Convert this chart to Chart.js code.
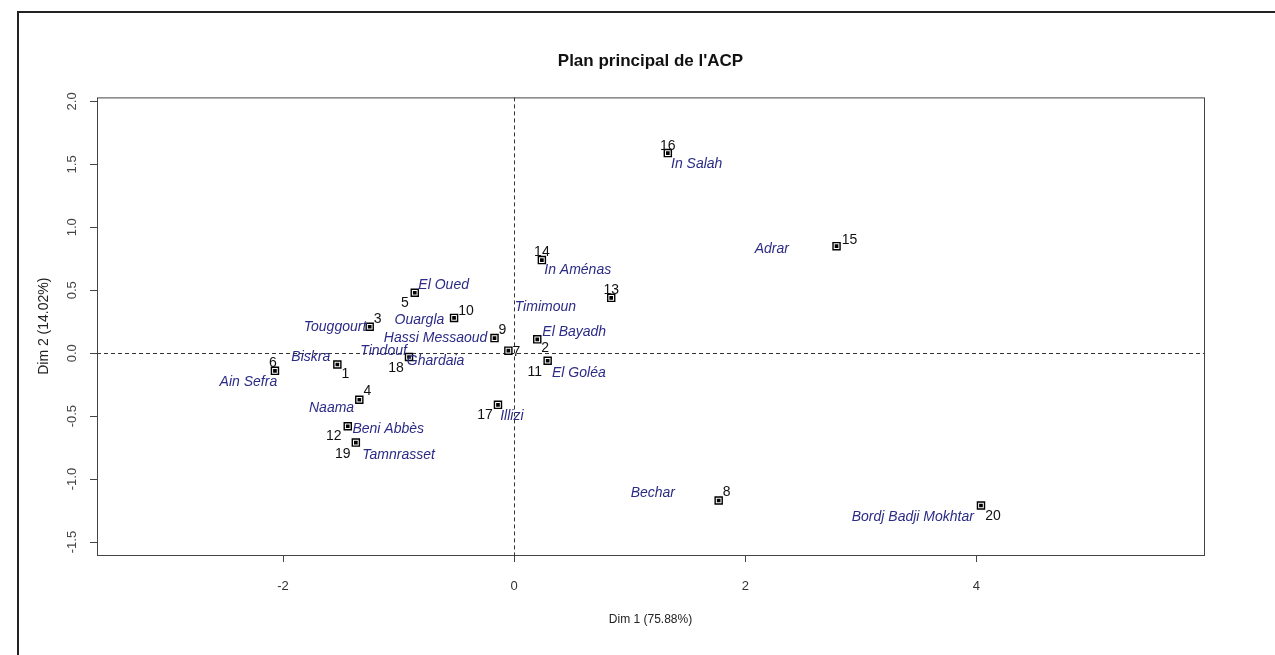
<!DOCTYPE html>
<html>
<head>
<meta charset="utf-8">
<script src="https://cdn.jsdelivr.net/npm/chart.js@4.4.1/dist/chart.umd.min.js"></script>
<style>
  html, body { margin: 0; padding: 0; background: #fff; }
  #wrap { position: relative; width: 1275px; height: 655px; }
</style>
</head>
<body>
<div id="wrap"><canvas id="acpChart"></canvas></div>
<script>
// individuals (coordinates on the first two PCA dimensions)
const pointIds = ['1','2','3','4','5','6','7','8','9','10','11','12','13','14','15','16','17','18','19','20'];
const dim1 = [-1.53, 0.20, -1.25, -1.34, -0.86, -2.07, -0.05, 1.77, -0.17, -0.52, 0.29, -1.44, 0.84, 0.24, 2.79, 1.33, -0.14, -0.91, -1.37, 4.04];
const dim2 = [-0.09, 0.11, 0.21, -0.37, 0.48, -0.14, 0.02, -1.17, 0.12, 0.28, -0.06, -0.58, 0.44, 0.74, 0.85, 1.59, -0.41, -0.03, -0.71, -1.21];

// city names layer
const cityNames = ['In Salah', 'Adrar', 'In Aménas', 'El Oued', 'Timimoun', 'Ouargla', 'Touggourt', 'El Bayadh',
  'Hassi Messaoud', 'Tindouf', 'Biskra', 'Ghardaia', 'El Goléa', 'Ain Sefra', 'Naama', 'Illizi',
  'Beni Abbès', 'Tamnrasset', 'Bechar', 'Bordj Badji Mokhtar'];
const cityX = [1.58, 2.23, 0.55, -0.61, 0.27, -0.82, -1.55, 0.52, -0.68, -1.13, -1.76, -0.68, 0.56, -2.30, -1.58, -0.02, -1.09, -1.00, 1.20, 3.45];
const cityY = [1.50, 0.83, 0.66, 0.54, 0.37, 0.26, 0.21, 0.17, 0.12, 0.02, -0.03, -0.06, -0.16, -0.23, -0.44, -0.50, -0.60, -0.81, -1.11, -1.30];

const xTitle = 'Dim 1 (75.88%)';
const yTitle = 'Dim 2 (14.02%)';
const chartTitle = "Plan principal de l'ACP";

// label offsets (px) for the point numbers
const numOffsets = [[8,10],[8,9],[8,-8],[8,-9],[-10,10],[-2,-8],[8,1],[8,-8],[8,-8],[12,-7],
  [-13,11],[-14,10],[0,-8],[0,-8],[13,-6],[0,-7],[-13,10],[-13,11],[-13,12],[12,11]];

Chart.defaults.font.family = '"Liberation Sans", Arial, sans-serif';
Chart.defaults.color = '#222';

const pts = dim1.map((v, i) => ({x: v, y: dim2[i]}));
const cities = cityX.map((v, i) => ({x: v, y: cityY[i]}));

const acpDecor = {
  id: 'acpDecor',
  beforeDatasetsDraw(chart) {
    const {ctx, chartArea: a, scales: {x, y}} = chart;
    const x0 = Math.round(x.getPixelForValue(0)) + 0.5;
    const y0 = Math.round(y.getPixelForValue(0)) + 0.5;
    ctx.save();
    ctx.strokeStyle = '#333';
    ctx.lineWidth = 1;
    ctx.setLineDash([4, 3]);
    ctx.beginPath();
    ctx.moveTo(x0, a.top); ctx.lineTo(x0, a.bottom);
    ctx.moveTo(a.left, y0); ctx.lineTo(a.right, y0);
    ctx.stroke();
    ctx.restore();
  },
  afterDraw(chart) {
    const {ctx, chartArea: a, scales: {y}} = chart;
    ctx.save();
    // plot box
    ctx.strokeStyle = '#444';
    ctx.lineWidth = 1;
    ctx.strokeRect(a.left + 0.5, a.top + 0.5, a.right - a.left, a.bottom - a.top);
    // y tick labels, rotated like R
    ctx.fillStyle = '#444';
    ctx.font = '13px "Liberation Sans", Arial, sans-serif';
    ctx.textAlign = 'center';
    ctx.textBaseline = 'middle';
    y.ticks.forEach(t => {
      const py = y.getPixelForValue(t.value);
      ctx.save();
      ctx.translate(a.left - 25, py);
      ctx.rotate(-Math.PI / 2);
      ctx.fillText(t.value.toFixed(1), 0, 0);
      ctx.restore();
    });
    // point numbers
    ctx.fillStyle = '#111';
    ctx.font = '14px "Liberation Sans", Arial, sans-serif';
    chart.getDatasetMeta(0).data.forEach((p, i) => {
      const o = numOffsets[i];
      ctx.fillText(pointIds[i], p.x + o[0], p.y + o[1]);
    });
    // city names
    ctx.fillStyle = '#2b2b86';
    ctx.font = 'italic 14px "Liberation Sans", Arial, sans-serif';
    chart.getDatasetMeta(2).data.forEach((p, i) => {
      ctx.fillText(cityNames[i], p.x, p.y);
    });
    // outer frame
    ctx.strokeStyle = '#222';
    ctx.lineWidth = 2;
    ctx.strokeRect(18, 12, 1400, 800);
    ctx.restore();
  }
};

new Chart(document.getElementById('acpChart'), {
  type: 'scatter',
  data: {
    datasets: [
      {
        data: pts,
        order: 2,
        pointStyle: 'rect',
        pointRadius: 5,
        pointBackgroundColor: '#fff',
        pointBorderColor: '#000',
        pointBorderWidth: 1.4
      },
      {
        data: pts,
        order: 1,
        pointStyle: 'rect',
        pointRadius: 2.6,
        pointBackgroundColor: '#000',
        pointBorderWidth: 0
      },
      {
        data: cities,
        order: 3,
        pointRadius: 0
      }
    ]
  },
  options: {
    responsive: true,
    maintainAspectRatio: false,
    animation: false,
    layout: { padding: { left: 32, right: 71, top: 0, bottom: 24 } },
    plugins: {
      legend: { display: false },
      tooltip: { enabled: false },
      title: {
        display: true,
        fullSize: false,
        text: chartTitle,
        color: '#111',
        font: { size: 17, weight: 'bold' },
        padding: { top: 51, bottom: 26 }
      }
    },
    scales: {
      x: {
        type: 'linear',
        min: -3.61,
        max: 5.97,
        afterFit: s => { s.height = 76; },
        border: { display: false },
        grid: { drawOnChartArea: false, drawTicks: true, tickLength: 7, color: '#444' },
        ticks: { stepSize: 2, includeBounds: false, padding: 17, color: '#333', font: { size: 13 } },
        title: { display: true, text: xTitle, color: '#222', font: { size: 12 }, padding: 4 }
      },
      y: {
        type: 'linear',
        min: -1.603,
        max: 2.032,
        afterFit: s => { s.width = 65; },
        border: { display: false },
        grid: { drawOnChartArea: false, drawTicks: true, tickLength: 7, color: '#444' },
        ticks: { stepSize: 0.5, includeBounds: false, display: false },
        title: { display: true, text: yTitle, color: '#222', font: { size: 14 }, padding: 4 }
      }
    }
  },
  plugins: [acpDecor]
});
</script>
</body>
</html>
